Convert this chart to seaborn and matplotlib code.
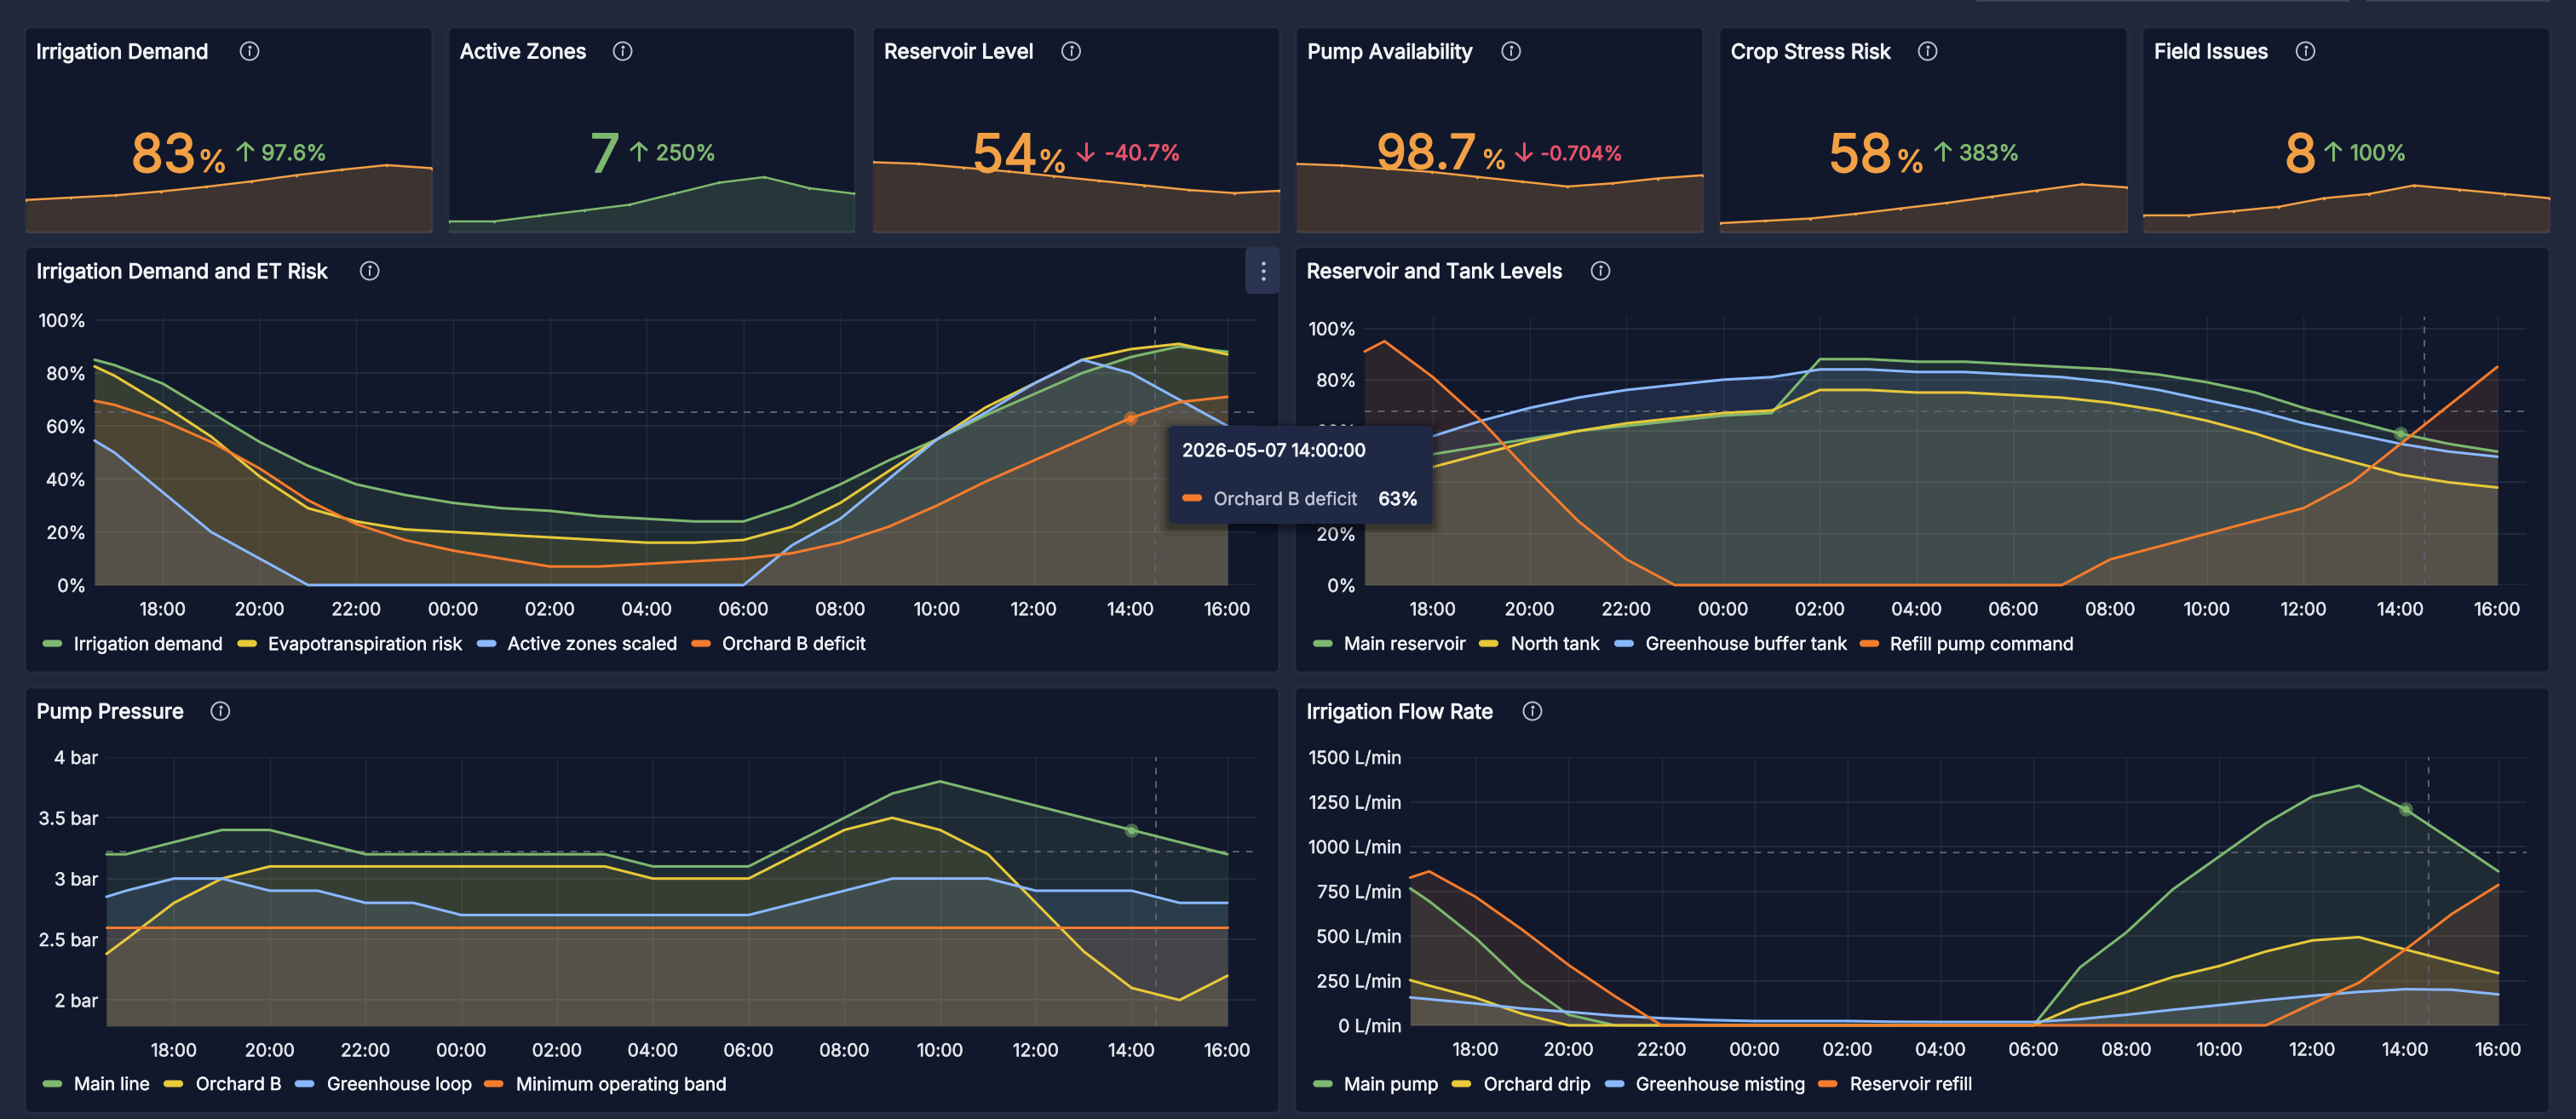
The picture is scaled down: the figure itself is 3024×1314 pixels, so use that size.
import matplotlib
matplotlib.use("Agg")
import matplotlib.pyplot as plt
import matplotlib.patheffects as pe
from matplotlib.patches import FancyBboxPatch, Circle, Rectangle
import seaborn as sns

# --- data ---
hours = [16.59] + list(range(17, 41))
hour_ticks = list(range(18, 41, 2))
hour_labels = ["18:00", "20:00", "22:00", "00:00", "02:00", "04:00",
               "06:00", "08:00", "10:00", "12:00", "14:00", "16:00"]

# demand panel
irrigation_demand = [85, 83, 76, 65, 54, 45, 38, 34, 31, 29, 28, 26, 25, 24, 24, 30, 38, 47, 55, 64, 72, 80, 86, 90, 88]
et_risk = [82.5, 79, 68, 56, 41, 29, 24, 21, 20, 19, 18, 17, 16, 16, 17, 22, 31, 43, 55, 67, 76, 85, 89, 91, 87]
active_scaled = [54.5, 50, 35, 20, 10, 0, 0, 0, 0, 0, 0, 0, 0, 0, 0, 15, 25, 40, 55, 65, 76, 85, 80, 70, 60]
orchard_deficit = [69.5, 68, 62, 54, 44, 32, 23, 17, 13, 10, 7, 7, 8, 9, 10, 12, 16, 22, 30, 39, 47, 55, 63, 69, 71]

# tank panel
main_reservoir = [47, 48, 51, 54, 57, 60, 62, 64, 66, 67, 88, 88, 87, 87, 86, 85, 84, 82, 79, 75, 69, 64, 59, 55, 52]
north_tank = [41, 42, 46, 51, 56, 60, 63, 65, 67, 68, 76, 76, 75, 75, 74, 73, 71, 68, 64, 59, 53, 48, 43, 40, 38]
buffer_tank = [53, 54, 58, 64, 69, 73, 76, 78, 80, 81, 84, 84, 83, 83, 82, 81, 79, 76, 72, 68, 63, 59, 55, 52, 50]
refill_command = [91, 95, 81, 64, 44, 25, 10, 0, 0, 0, 0, 0, 0, 0, 0, 0, 10, 15, 20, 25, 30, 40, 55, 70, 85]

# pressure panel
main_line = [3.2, 3.2, 3.3, 3.4, 3.4, 3.3, 3.2, 3.2, 3.2, 3.2, 3.2, 3.2, 3.1, 3.1, 3.1, 3.3, 3.5, 3.7, 3.8, 3.7, 3.6, 3.5, 3.4, 3.3, 3.2]
orchard_b = [2.38, 2.5, 2.8, 3.0, 3.1, 3.1, 3.1, 3.1, 3.1, 3.1, 3.1, 3.1, 3.0, 3.0, 3.0, 3.2, 3.4, 3.5, 3.4, 3.2, 2.8, 2.4, 2.1, 2.0, 2.2]
greenhouse_loop = [2.85, 2.9, 3.0, 3.0, 2.9, 2.9, 2.8, 2.8, 2.7, 2.7, 2.7, 2.7, 2.7, 2.7, 2.7, 2.8, 2.9, 3.0, 3.0, 3.0, 2.9, 2.9, 2.9, 2.8, 2.8]
min_band = [2.6] * 25

# flow panel
main_pump = [766, 694, 488, 242, 59, 0, 0, 0, 0, 0, 0, 0, 0, 0, 0, 324, 520, 761, 945, 1130, 1280, 1340, 1208, 1036, 861]
orchard_drip = [253, 222, 154, 64, 0, 0, 0, 0, 0, 0, 0, 0, 0, 0, 0, 114, 186, 270, 332, 413, 475, 493, 424, 357, 292]
greenhouse_misting = [156, 146, 122, 94, 75, 54, 40, 30, 24, 24, 24, 20, 19, 19, 19, 35, 59, 87, 113, 141, 165, 187, 202, 199, 173]
reservoir_refill = [826, 861, 718, 535, 337, 162, 0, 0, 0, 0, 0, 0, 0, 0, 0, 0, 0, 0, 0, 0, 122, 238, 424, 623, 785]

# stat sparklines
spark_demand = [42, 45, 48, 53, 59, 66, 74, 81, 87, 83]
spark_zones = [2, 2, 3, 4, 5, 7, 9, 10, 8, 7]
spark_reservoir = [91, 89, 84, 79, 73, 67, 61, 55, 51, 54]
spark_pump = [99.4, 99.3, 99.1, 98.9, 98.6, 98.3, 98.0, 98.2, 98.5, 98.7]
spark_stress = [12, 15, 18, 24, 31, 38, 46, 54, 62, 58]
spark_issues = [4, 4, 5, 6, 8, 9, 11, 10, 9, 8]

# --- look ---
W, H = 3024, 1314
PAGE = "#21283c"
PANEL = "#11182c"
BORDER = "#252c42"
GRID = "#232a40"
GREEN = "#7eb86f"
YELLOW = "#e8c93a"
BLUE = "#8ab8ff"
ORANGE = "#f57c2c"
VALUE_ORANGE = "#f2a045"
RED = "#e5536b"
WHITE = "#f2f3f6"
TICK = "#e2e5ea"
SOFT = "#bcc3d2"
CROSS = "#5c6172"
SERIES_COLORS = [GREEN, YELLOW, BLUE, ORANGE]

sns.set_theme(style="dark", rc={"axes.facecolor": "none", "figure.facecolor": PAGE})
plt.rcParams["font.family"] = ["Inter", "DejaVu Sans"]

fig = plt.figure(figsize=(W / 100, H / 100), dpi=100, facecolor=PAGE)


def px_axes(left, top, right, bottom, zorder=2):
    ax = fig.add_axes([left / W, 1 - bottom / H, (right - left) / W, (bottom - top) / H], zorder=zorder)
    ax.patch.set_alpha(0)
    return ax


def px_size(px):
    return px * 72 / 100


def thicken(text, width=0.3):
    # only the regular cut of Inter is available, so fatten it a little
    text.set_path_effects([pe.withStroke(linewidth=width, foreground=text.get_color())])
    return text


back = px_axes(0, 0, W, H, zorder=0)
front = px_axes(0, 0, W, H, zorder=10)
for layer in (back, front):
    layer.set_xlim(0, W)
    layer.set_ylim(H, 0)
    layer.axis("off")


def panel_box(x0, y0, x1, y1):
    back.add_patch(FancyBboxPatch((x0, y0), x1 - x0, y1 - y0, boxstyle="round,pad=0,rounding_size=7",
                                  fc=PANEL, ec=BORDER, lw=2))


def info_icon(x, y):
    front.add_patch(Circle((x, y), 10.5, fc="none", ec=SOFT, lw=1.4))
    front.plot([x, x], [y - 1, y + 5], color=SOFT, lw=1.4, solid_capstyle="round")
    front.plot([x], [y - 5], marker="o", ms=1.8, color=SOFT)


def title(x, y, text, icon_x):
    thicken(front.text(x, y, text, color=WHITE, fontsize=px_size(24), ha="left", va="center_baseline"), 0.8)
    info_icon(icon_x, y)


def change_arrow(x, up, color):
    top, bottom = 168, 188
    front.plot([x, x], [top, bottom], color=color, lw=2.2, solid_capstyle="round")
    tip = top if up else bottom
    wing = tip + 8 if up else tip - 8
    front.plot([x - 9, x, x + 9], [wing, tip, wing], color=color, lw=2.2, solid_capstyle="round", solid_joinstyle="miter")


def stat_panel(x0, x1, name, name_x, icon_x, values, ylim, color, big, big_x, unit, unit_x, arrow_x, up, change, change_x,
               big_px=62, unit_px=36, change_px=25, baseline=202):
    panel_box(x0, 32, x1, 273)
    title(name_x, 60, name, icon_x)
    ax = px_axes(x0 + 1, 153.3, x1 - 1, 273)
    steps = list(range(len(values)))
    sns.lineplot(x=steps, y=values, ax=ax, color=color, lw=1.8, marker="o", ms=2.6, mew=0, legend=False, estimator=None, errorbar=None)
    ax.fill_between(steps, values, ylim[0], color=color, alpha=0.2, lw=0)
    ax.set_xlim(0, len(values) - 1)
    ax.set_ylim(*ylim)
    ax.axis("off")
    thicken(front.text(big_x, baseline, big, color=color, fontsize=px_size(big_px), ha="left", va="baseline"), 1.3)
    if unit:
        thicken(front.text(unit_x, baseline, unit, color=color, fontsize=px_size(unit_px), ha="left", va="baseline"), 0.7)
    chg = GREEN if up else RED
    change_arrow(arrow_x, up, chg)
    thicken(front.text(change_x, 188, change, color=chg, fontsize=px_size(change_px), ha="left", va="baseline"), 0.7)


def chart_panel(box, plot, name, name_x, icon_x, title_y, series, names, ylim, yticks, ylabels,
                cross_y, swatches, labels_x, legend_y, dot_series):
    panel_box(*box)
    title(name_x, title_y, name, icon_x)
    ax = px_axes(*plot)
    for tick in yticks:
        ax.axhline(tick, color=GRID, lw=1.4, zorder=1)
    for tick in hour_ticks:
        ax.axvline(tick, color=GRID, lw=1, zorder=1)
    for vals, color in zip(series, SERIES_COLORS):
        ax.fill_between(hours, vals, ylim[0], color=color, alpha=0.12, lw=0, zorder=2)
    ax.axhline(cross_y, color=CROSS, lw=1.4, ls=(0, (4, 4)), zorder=3)
    ax.axvline(38.5, color=CROSS, lw=1.4, ls=(0, (4, 4)), zorder=3)
    for vals, color in zip(series, SERIES_COLORS):
        sns.lineplot(x=hours, y=vals, ax=ax, color=color, lw=2.2, legend=False, estimator=None, errorbar=None, zorder=4)
    for line in ax.lines[-4:]:
        line.set_clip_on(False)
    ax.scatter([38], [series[dot_series][22]], s=140, color=SERIES_COLORS[dot_series], alpha=0.5, lw=0, zorder=5)
    ax.scatter([38], [series[dot_series][22]], s=36, color=SERIES_COLORS[dot_series], lw=0, zorder=6)
    ax.set_xlim(16.59, 40.6)
    ax.set_ylim(*ylim)
    ax.set_xticks(hour_ticks, hour_labels)
    ax.set_yticks(yticks, ylabels)
    ax.set_xlabel("")
    ax.set_ylabel("")
    ax.tick_params(axis="x", length=6, color=GRID, width=1, labelsize=px_size(21), labelcolor=TICK, pad=8)
    ax.tick_params(axis="y", length=0, labelsize=px_size(21), labelcolor=TICK, pad=7)
    ax.grid(False)
    sns.despine(ax=ax, left=True, bottom=True)
    for label in ax.get_xticklabels() + ax.get_yticklabels():
        label.set_path_effects([pe.withStroke(linewidth=0.4, foreground=TICK)])
    for name_text, sx, tx, color in zip(names, swatches, labels_x, SERIES_COLORS):
        back.add_patch(FancyBboxPatch((sx + 1, legend_y - 2.5), 21, 6, boxstyle="round,pad=0,rounding_size=3", fc=color, ec=color, lw=1.5, zorder=3))
        thicken(back.text(tx, legend_y, name_text, color=WHITE, fontsize=px_size(21), ha="left", va="center_baseline", zorder=3), 0.4)


# scraps of the toolbar cut off at the top edge
back.add_patch(Rectangle((2320, 0), 438, 2, fc="#3c445a", lw=0))
back.add_patch(Rectangle((2778, 0), 216, 2, fc="#3c445a", lw=0))

stat_panel(29, 508, "Irrigation Demand", 42.5, 293, spark_demand, (0, 131.6), VALUE_ORANGE, "83", 153.6, "%", 232, 288, True, "97.6%", 307)
stat_panel(526, 1004, "Active Zones", 540, 731, spark_zones, (0, 18.4), GREEN, "7", 693, "", 0, 750, True, "250%", 770)
stat_panel(1024, 1503, "Reservoir Level", 1038, 1257.5, spark_reservoir, (0, 132), VALUE_ORANGE, "54", 1140.5, "%", 1218, 1274.5, False, "-40.7%", 1297)
stat_panel(1521, 2000, "Pump Availability", 1535, 1774, spark_pump, (95.16, 101.46), VALUE_ORANGE, "98.7", 1616, "%", 1739, 1789, False, "-0.704%", 1808.5,
           big_px=56, unit_px=31, change_px=23, baseline=198)
stat_panel(2018, 2498, "Crop Stress Risk", 2032, 2263, spark_stress, (0, 131.3), VALUE_ORANGE, "58", 2145.7, "%", 2225, 2281, True, "383%", 2300)
stat_panel(2515, 2994, "Field Issues", 2529, 2706.5, spark_issues, (0, 23.8), VALUE_ORANGE, "8", 2681.7, "", 0, 2739, True, "100%", 2759)

pct_ticks = [0, 20, 40, 60, 80, 100]
pct_labels = ["0%", "20%", "40%", "60%", "80%", "100%"]

chart_panel((29, 290, 1502, 790), (111, 372, 1475, 687), "Irrigation Demand and ET Risk", 43, 434, 318,
            [irrigation_demand, et_risk, active_scaled, orchard_deficit],
            ["Irrigation demand", "Evapotranspiration risk", "Active zones scaled", "Orchard B deficit"],
            (0, 101.2), pct_ticks, pct_labels, 65.2,
            [50, 278.6, 559.7, 811.5], [87, 315, 596, 848], 755, 3)

chart_panel((1520, 290, 2993, 790), (1602, 372, 2965.7, 687), "Reservoir and Tank Levels", 1534, 1879, 318,
            [main_reservoir, north_tank, buffer_tank, refill_command],
            ["Main reservoir", "North tank", "Greenhouse buffer tank", "Refill pump command"],
            (0, 104.5), pct_ticks, pct_labels, 67.6,
            [1541.5, 1736, 1895, 2183], [1578, 1774, 1932, 2219], 755, 0)

chart_panel((29, 807, 1502, 1307), (125, 889, 1474.6, 1205), "Pump Pressure", 43, 258.7, 835,
            [main_line, orchard_b, greenhouse_loop, min_band],
            ["Main line", "Orchard B", "Greenhouse loop", "Minimum operating band"],
            (1.785, 4), [2, 2.5, 3, 3.5, 4], ["2 bar", "2.5 bar", "3 bar", "3.5 bar", "4 bar"], 3.22,
            [50, 192, 346, 568], [87, 230, 384, 606], 1272, 0)

chart_panel((1520, 807, 2993, 1307), (1655.4, 889, 2965.6, 1204), "Irrigation Flow Rate", 1534, 1799, 835,
            [main_pump, orchard_drip, greenhouse_misting, reservoir_refill],
            ["Main pump", "Orchard drip", "Greenhouse misting", "Reservoir refill"],
            (0, 1500), [0, 250, 500, 750, 1000, 1250, 1500],
            ["0 L/min", "250 L/min", "500 L/min", "750 L/min", "1000 L/min", "1250 L/min", "1500 L/min"], 965,
            [1541.5, 1704, 1884, 2134], [1578, 1742, 1920.6, 2172], 1272, 0)

# panel menu button
front.add_patch(FancyBboxPatch((1462, 290), 40, 55, boxstyle="round,pad=0,rounding_size=7", fc="#2a3350", lw=0))
for dot_y in (309, 318, 327):
    front.plot([1482.5], [dot_y], marker="o", ms=3.2, color=SOFT, mew=0)

# tooltip
for grow, alpha in ((10, 0.08), (6, 0.12), (3, 0.18)):
    front.add_patch(FancyBboxPatch((1372 - grow, 500 - grow + 4), 310 + 2 * grow, 115 + 2 * grow,
                                   boxstyle="round,pad=0,rounding_size=8", fc="black", alpha=alpha, lw=0))
front.add_patch(FancyBboxPatch((1372, 500), 310, 115, boxstyle="round,pad=0,rounding_size=6", fc="#1f2945", lw=0))
thicken(front.text(1388, 528, "2026-05-07 14:00:00", color=WHITE, fontsize=px_size(21), ha="left", va="center_baseline"), 0.7)
front.add_patch(FancyBboxPatch((1389, 581.5), 21, 6, boxstyle="round,pad=0,rounding_size=3", fc=ORANGE, ec=ORANGE, lw=1.5))
thicken(front.text(1425, 585, "Orchard B deficit", color=SOFT, fontsize=px_size(21), ha="left", va="center_baseline"), 0.3)
thicken(front.text(1665, 585, "63%", color=WHITE, fontsize=px_size(21), ha="right", va="center_baseline"), 0.8)

fig.savefig("out.png", dpi=100, facecolor=PAGE)
